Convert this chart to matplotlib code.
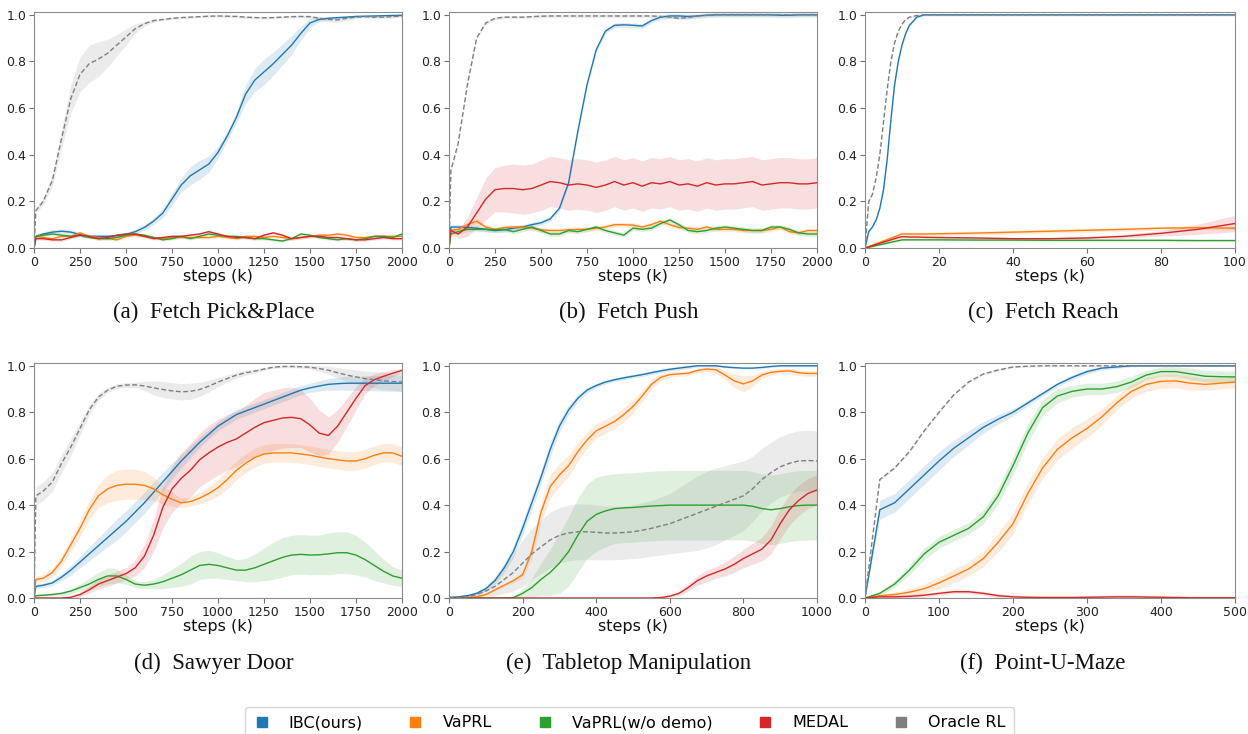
import matplotlib.pyplot as plt
import numpy as np
from matplotlib.lines import Line2D

# ── colours / labels ──────────────────────────────────────────────────────────
C_IBC, C_VAPRL, C_NODEMO, C_MEDAL, C_ORACLE = "#1f77b4", "#ff7f0e", "#2ca02c", "#d62728", "#7f7f7f"
method_names = ["IBC(ours)", "VaPRL", "VaPRL(w/o demo)", "MEDAL", "Oracle RL"]

# ── (a) Fetch Pick&Place ──────────────────────────────────────────────────────
a_steps = [0, 10] + list(range(50, 2001, 50))
a_ibc = [0.0, 0.05, 0.06, 0.068, 0.072, 0.068, 0.058, 0.05, 0.05, 0.05, 0.053, 0.058,
         0.07, 0.088, 0.115, 0.15, 0.21, 0.27, 0.31, 0.335, 0.36, 0.41,
         0.48, 0.56, 0.66, 0.72, 0.755, 0.79, 0.83, 0.87, 0.92, 0.965,
         0.98, 0.985, 0.988, 0.99, 0.993, 0.994, 0.995, 0.996, 0.997, 0.998]
a_ibc_sd = [0.0, 0.01, 0.01, 0.01, 0.01, 0.01, 0.01, 0.008, 0.008, 0.008, 0.008, 0.01,
            0.01, 0.012, 0.015, 0.02, 0.025, 0.03, 0.04, 0.04, 0.035, 0.025,
            0.02, 0.025, 0.04, 0.05, 0.055, 0.05, 0.045, 0.04, 0.03, 0.02,
            0.01, 0.006, 0.005, 0.005, 0.005, 0.005, 0.005, 0.005, 0.005, 0.005]
a_vaprl = [0.0, 0.05, 0.045, 0.04, 0.05, 0.05, 0.065, 0.05, 0.045, 0.04, 0.035, 0.05,
           0.055, 0.05, 0.045, 0.04, 0.045, 0.045, 0.045, 0.045, 0.045, 0.05,
           0.045, 0.04, 0.05, 0.05, 0.045, 0.05, 0.045, 0.04, 0.045, 0.05,
           0.055, 0.055, 0.06, 0.055, 0.045, 0.045, 0.05, 0.05, 0.05, 0.05]
a_nodemo = [0.0, 0.05, 0.055, 0.06, 0.055, 0.05, 0.055, 0.045, 0.04, 0.04, 0.045, 0.055,
            0.06, 0.055, 0.045, 0.035, 0.04, 0.05, 0.04, 0.05, 0.06, 0.055,
            0.05, 0.05, 0.045, 0.04, 0.04, 0.035, 0.03, 0.04, 0.06, 0.055,
            0.045, 0.04, 0.035, 0.04, 0.035, 0.04, 0.05, 0.05, 0.045, 0.06]
a_medal = [0.0, 0.04, 0.04, 0.035, 0.035, 0.045, 0.055, 0.05, 0.04, 0.045, 0.055, 0.06,
           0.06, 0.05, 0.04, 0.045, 0.05, 0.05, 0.055, 0.06, 0.07, 0.06,
           0.05, 0.045, 0.045, 0.04, 0.055, 0.065, 0.055, 0.04, 0.045, 0.05,
           0.05, 0.045, 0.045, 0.04, 0.035, 0.035, 0.04, 0.045, 0.04, 0.04]
a_oracle = [0.0, 0.16, 0.2, 0.29, 0.47, 0.64, 0.745, 0.79, 0.81, 0.835, 0.87, 0.905,
            0.94, 0.962, 0.975, 0.98, 0.985, 0.988, 0.99, 0.992, 0.994, 0.995,
            0.994, 0.993, 0.99, 0.988, 0.987, 0.988, 0.99, 0.992, 0.993, 0.992,
            0.985, 0.98, 0.978, 0.985, 0.99, 0.992, 0.99, 0.99, 0.992, 0.995]
a_oracle_sd = [0.0, 0.01, 0.015, 0.025, 0.04, 0.06, 0.075, 0.08, 0.075, 0.06, 0.045, 0.035,
               0.02, 0.01, 0.006, 0.005, 0.005, 0.005, 0.005, 0.005, 0.005, 0.005,
               0.005, 0.005, 0.005, 0.005, 0.005, 0.005, 0.005, 0.005, 0.005, 0.006,
               0.008, 0.01, 0.01, 0.008, 0.005, 0.005, 0.005, 0.005, 0.005, 0.005]

# ── (b) Fetch Push ────────────────────────────────────────────────────────────
b_steps = [0, 10] + list(range(50, 2001, 50))
b_ibc = [0.0, 0.09, 0.09, 0.088, 0.085, 0.08, 0.075, 0.078, 0.085, 0.09, 0.1, 0.108,
         0.125, 0.17, 0.28, 0.5, 0.7, 0.85, 0.93, 0.955, 0.957, 0.955,
         0.952, 0.975, 0.99, 0.995, 0.995, 0.993, 0.995, 0.998, 1.0, 1.0,
         1.0, 1.0, 1.0, 1.0, 1.0, 0.998, 0.998, 1.0, 1.0, 1.0]
b_ibc_sd = 0.01
b_vaprl = [0.0, 0.075, 0.08, 0.1, 0.115, 0.09, 0.08, 0.088, 0.09, 0.09, 0.085, 0.078,
           0.075, 0.075, 0.078, 0.08, 0.08, 0.085, 0.09, 0.1, 0.1, 0.098,
           0.09, 0.1, 0.115, 0.1, 0.088, 0.085, 0.08, 0.09, 0.08, 0.08,
           0.08, 0.075, 0.075, 0.075, 0.08, 0.09, 0.07, 0.065, 0.075, 0.075]
b_nodemo = [0.0, 0.06, 0.07, 0.08, 0.08, 0.08, 0.078, 0.08, 0.07, 0.08, 0.09, 0.075,
            0.06, 0.06, 0.075, 0.07, 0.08, 0.09, 0.075, 0.065, 0.055, 0.085,
            0.08, 0.085, 0.105, 0.12, 0.1, 0.075, 0.07, 0.075, 0.085, 0.09,
            0.085, 0.08, 0.075, 0.075, 0.09, 0.09, 0.08, 0.065, 0.06, 0.06]
b_medal = [0.0, 0.075, 0.06, 0.09, 0.15, 0.21, 0.25, 0.255, 0.255, 0.25, 0.255, 0.27,
           0.285, 0.28, 0.27, 0.275, 0.27, 0.26, 0.27, 0.285, 0.27, 0.28,
           0.265, 0.28, 0.275, 0.285, 0.27, 0.275, 0.265, 0.28, 0.27, 0.275,
           0.275, 0.28, 0.285, 0.27, 0.275, 0.28, 0.28, 0.275, 0.275, 0.28]
b_medal_sd = [0.0, 0.01, 0.02, 0.04, 0.065, 0.09, 0.095, 0.1, 0.105, 0.105, 0.105, 0.108,
              0.108, 0.108, 0.108, 0.108, 0.108, 0.108, 0.108, 0.108, 0.108, 0.108,
              0.108, 0.108, 0.108, 0.108, 0.108, 0.108, 0.108, 0.108, 0.108, 0.108,
              0.108, 0.108, 0.108, 0.108, 0.108, 0.108, 0.108, 0.108, 0.108, 0.108]
b_oracle = [0.0, 0.33, 0.45, 0.7, 0.9, 0.965, 0.985, 0.99, 0.99, 0.99, 0.992, 0.994,
            0.995, 0.995, 0.995, 0.995, 0.995, 0.995, 0.995, 0.995, 0.995, 0.995,
            0.995, 0.995, 0.993, 0.99, 0.985, 0.988, 0.995, 0.998, 1.0, 1.0,
            1.0, 1.0, 1.0, 1.0, 1.0, 1.0, 1.0, 1.0, 1.0, 1.0]

# ── (c) Fetch Reach ───────────────────────────────────────────────────────────
c_steps = [0, 1, 2, 3, 4, 5, 6, 7, 8, 9, 10, 11, 12, 14, 16, 20, 30, 40, 50, 60, 70, 80, 90, 100]
c_ibc = [0.0, 0.07, 0.09, 0.12, 0.17, 0.25, 0.38, 0.55, 0.7, 0.8, 0.87, 0.92, 0.955, 0.99,
         1.0, 1.0, 1.0, 1.0, 1.0, 1.0, 1.0, 1.0, 1.0, 1.0]
c_vaprl = [0.0, 0.006, 0.012, 0.018, 0.024, 0.03, 0.036, 0.042, 0.048, 0.054, 0.06, 0.06,
           0.06, 0.06, 0.06, 0.061, 0.064, 0.068, 0.072, 0.076, 0.08, 0.085, 0.087, 0.085]
c_nodemo = [0.0, 0.0035, 0.007, 0.0105, 0.014, 0.0175, 0.021, 0.0245, 0.028, 0.0315, 0.035,
            0.035, 0.035, 0.035, 0.035, 0.035, 0.034, 0.034, 0.033, 0.033, 0.033, 0.033, 0.032, 0.032]
c_medal = [0.0, 0.005, 0.01, 0.015, 0.02, 0.025, 0.03, 0.035, 0.04, 0.045, 0.048, 0.048,
           0.047, 0.047, 0.046, 0.045, 0.043, 0.04, 0.04, 0.043, 0.05, 0.063, 0.08, 0.105]
c_medal_sd = [0.0, 0.003, 0.003, 0.004, 0.004, 0.005, 0.005, 0.005, 0.005, 0.005, 0.005, 0.005,
              0.005, 0.005, 0.005, 0.005, 0.005, 0.005, 0.005, 0.006, 0.008, 0.012, 0.022, 0.035]
c_oracle = [0.0, 0.2, 0.23, 0.3, 0.4, 0.54, 0.68, 0.8, 0.88, 0.93, 0.96, 0.98, 0.99, 0.997,
            1.0, 1.0, 1.0, 1.0, 1.0, 1.0, 1.0, 1.0, 1.0, 1.0]

# ── (d) Sawyer Door ───────────────────────────────────────────────────────────
d_steps = [0, 10] + list(range(50, 2001, 50))
d_ibc = [0.0, 0.05, 0.055, 0.065, 0.09, 0.12, 0.155, 0.19, 0.225, 0.26, 0.295, 0.33,
         0.37, 0.41, 0.455, 0.5, 0.545, 0.59, 0.63, 0.67, 0.705, 0.74,
         0.765, 0.79, 0.805, 0.82, 0.835, 0.85, 0.865, 0.88, 0.895, 0.905,
         0.913, 0.92, 0.923, 0.925, 0.925, 0.925, 0.925, 0.925, 0.925, 0.925]
d_ibc_sd = [0.0, 0.01, 0.01, 0.012, 0.015, 0.02, 0.025, 0.03, 0.035, 0.04, 0.045, 0.045,
            0.045, 0.045, 0.045, 0.04, 0.035, 0.03, 0.025, 0.022, 0.02, 0.02,
            0.02, 0.02, 0.02, 0.02, 0.02, 0.02, 0.02, 0.02, 0.02, 0.02,
            0.022, 0.025, 0.028, 0.03, 0.03, 0.032, 0.033, 0.034, 0.035, 0.035]
d_vaprl = [0.0, 0.08, 0.085, 0.11, 0.16, 0.23, 0.3, 0.38, 0.44, 0.47, 0.485, 0.49,
           0.49, 0.485, 0.47, 0.445, 0.425, 0.41, 0.415, 0.43, 0.45, 0.475,
           0.51, 0.55, 0.58, 0.605, 0.62, 0.625, 0.625, 0.625, 0.62, 0.615,
           0.607, 0.6, 0.595, 0.59, 0.59, 0.6, 0.615, 0.625, 0.625, 0.61]
d_vaprl_sd = [0.0, 0.015, 0.015, 0.02, 0.025, 0.03, 0.035, 0.04, 0.05, 0.06, 0.065, 0.065,
              0.065, 0.06, 0.05, 0.04, 0.03, 0.02, 0.02, 0.025, 0.03, 0.035,
              0.04, 0.04, 0.04, 0.04, 0.04, 0.04, 0.04, 0.04, 0.04, 0.04,
              0.04, 0.04, 0.04, 0.04, 0.04, 0.04, 0.04, 0.04, 0.04, 0.04]
d_nodemo = [0.0, 0.01, 0.012, 0.015, 0.02, 0.03, 0.045, 0.06, 0.08, 0.095, 0.095, 0.08,
            0.06, 0.055, 0.06, 0.07, 0.085, 0.1, 0.12, 0.14, 0.145, 0.14,
            0.13, 0.12, 0.12, 0.13, 0.145, 0.16, 0.175, 0.185, 0.188, 0.185,
            0.186, 0.19, 0.195, 0.195, 0.185, 0.165, 0.14, 0.115, 0.095, 0.085]
d_nodemo_sd = [0.0, 0.005, 0.005, 0.005, 0.008, 0.01, 0.015, 0.025, 0.03, 0.035, 0.03, 0.02,
               0.015, 0.015, 0.02, 0.03, 0.04, 0.05, 0.06, 0.06, 0.06, 0.055,
               0.05, 0.045, 0.05, 0.06, 0.07, 0.08, 0.085, 0.085, 0.085, 0.085,
               0.085, 0.09, 0.09, 0.09, 0.085, 0.075, 0.065, 0.05, 0.04, 0.035]
d_medal = [0.0, 0.0, 0.0, 0.0, 0.0, 0.003, 0.015, 0.035, 0.06, 0.075, 0.09, 0.105,
           0.13, 0.18, 0.27, 0.39, 0.47, 0.515, 0.55, 0.595, 0.625, 0.65,
           0.67, 0.685, 0.71, 0.735, 0.755, 0.765, 0.775, 0.778, 0.772, 0.745,
           0.71, 0.7, 0.74, 0.8, 0.86, 0.915, 0.94, 0.955, 0.968, 0.98]
d_medal_sd = [0.0, 0.003, 0.003, 0.003, 0.004, 0.005, 0.01, 0.015, 0.02, 0.025, 0.025, 0.025,
              0.035, 0.05, 0.07, 0.09, 0.1, 0.11, 0.115, 0.115, 0.12, 0.12,
              0.12, 0.12, 0.12, 0.125, 0.13, 0.13, 0.13, 0.13, 0.125, 0.115,
              0.1, 0.08, 0.07, 0.06, 0.05, 0.035, 0.025, 0.02, 0.015, 0.01]
d_oracle = [0.0, 0.44, 0.46, 0.5, 0.58, 0.65, 0.73, 0.81, 0.865, 0.895, 0.912, 0.917,
            0.918, 0.913, 0.905, 0.898, 0.892, 0.888, 0.89, 0.898, 0.912, 0.93,
            0.945, 0.96, 0.97, 0.977, 0.986, 0.994, 0.997, 0.997, 0.996, 0.994,
            0.988, 0.981, 0.97, 0.96, 0.952, 0.945, 0.94, 0.935, 0.932, 0.93]
d_oracle_sd = [0.0, 0.04, 0.04, 0.04, 0.04, 0.035, 0.03, 0.02, 0.015, 0.01, 0.01, 0.01,
               0.012, 0.02, 0.03, 0.035, 0.035, 0.035, 0.035, 0.03, 0.025, 0.02,
               0.015, 0.012, 0.01, 0.008, 0.006, 0.005, 0.005, 0.005, 0.005, 0.008,
               0.012, 0.018, 0.022, 0.026, 0.03, 0.032, 0.035, 0.037, 0.038, 0.04]

# ── (e) Tabletop Manipulation ─────────────────────────────────────────────────
e_steps = list(range(0, 1001, 25))
e_ibc = [0.003, 0.005, 0.01, 0.02, 0.04, 0.075, 0.13, 0.2, 0.3, 0.41, 0.52, 0.64, 0.74, 0.81,
         0.86, 0.895, 0.915, 0.93, 0.94, 0.948, 0.955, 0.962, 0.97, 0.978, 0.985, 0.99, 0.995,
         1.0, 1.0, 1.0, 0.995, 0.992, 0.99, 0.99, 0.993, 0.997, 1.0, 1.0, 1.0, 1.0, 1.0]
e_ibc_sd = [0.002, 0.003, 0.005, 0.008, 0.01, 0.015, 0.02, 0.025, 0.03, 0.03, 0.03, 0.03, 0.025, 0.02,
            0.015, 0.012, 0.01, 0.008, 0.008, 0.008, 0.008, 0.008, 0.008, 0.008, 0.008, 0.008, 0.008,
            0.005, 0.004, 0.004, 0.004, 0.004, 0.004, 0.004, 0.004, 0.004, 0.004, 0.004, 0.004, 0.004, 0.004]
e_vaprl = [0.0, 0.0, 0.002, 0.005, 0.015, 0.035, 0.055, 0.075, 0.1, 0.2, 0.37, 0.48, 0.53, 0.57,
           0.63, 0.68, 0.72, 0.74, 0.76, 0.79, 0.825, 0.87, 0.92, 0.95, 0.962, 0.965, 0.968,
           0.98, 0.986, 0.983, 0.96, 0.935, 0.922, 0.935, 0.96, 0.972, 0.976, 0.978, 0.97, 0.967, 0.967]
e_vaprl_sd = [0.0, 0.0, 0.002, 0.003, 0.004, 0.005, 0.005, 0.01, 0.015, 0.03, 0.045, 0.05, 0.05, 0.045,
              0.04, 0.035, 0.03, 0.03, 0.03, 0.03, 0.03, 0.025, 0.02, 0.015, 0.012, 0.01, 0.01,
              0.01, 0.01, 0.015, 0.02, 0.03, 0.035, 0.025, 0.015, 0.012, 0.012, 0.012, 0.012, 0.012, 0.012]
e_nodemo = [0.0, 0.0, 0.0, 0.0, 0.0, 0.0, 0.0, 0.002, 0.02, 0.045, 0.08, 0.11, 0.15, 0.2,
            0.27, 0.33, 0.36, 0.375, 0.385, 0.388, 0.39, 0.393, 0.396, 0.398, 0.4, 0.4, 0.4,
            0.4, 0.4, 0.4, 0.4, 0.4, 0.4, 0.395, 0.385, 0.38, 0.385, 0.393, 0.398, 0.4, 0.4]
e_nodemo_sd = [0.0, 0.0, 0.0, 0.0, 0.0, 0.0, 0.002, 0.005, 0.02, 0.04, 0.07, 0.1, 0.13, 0.15,
               0.16, 0.16, 0.16, 0.155, 0.15, 0.15, 0.15, 0.15, 0.15, 0.15, 0.15, 0.15, 0.15,
               0.15, 0.15, 0.15, 0.15, 0.15, 0.15, 0.15, 0.15, 0.15, 0.15, 0.15, 0.15, 0.15, 0.15]
e_medal = [0.0, 0.0, 0.0, 0.0, 0.0, 0.0, 0.0, 0.0, 0.0, 0.0, 0.0, 0.0, 0.0, 0.0,
           0.0, 0.0, 0.0, 0.0, 0.0, 0.0, 0.0, 0.0, 0.0, 0.002, 0.008, 0.02, 0.045,
           0.075, 0.095, 0.11, 0.125, 0.145, 0.17, 0.19, 0.21, 0.25, 0.32, 0.38, 0.42, 0.45, 0.465]
e_medal_sd = [0.002, 0.002, 0.002, 0.002, 0.002, 0.002, 0.002, 0.002, 0.002, 0.002, 0.002, 0.002, 0.002, 0.002,
              0.002, 0.002, 0.002, 0.002, 0.002, 0.002, 0.002, 0.002, 0.002, 0.003, 0.005, 0.01, 0.015,
              0.02, 0.025, 0.025, 0.03, 0.035, 0.04, 0.045, 0.05, 0.06, 0.065, 0.065, 0.065, 0.065, 0.065]
e_oracle = [0.0, 0.002, 0.005, 0.015, 0.03, 0.05, 0.08, 0.11, 0.15, 0.19, 0.22, 0.25, 0.27, 0.28,
            0.285, 0.285, 0.283, 0.28, 0.28, 0.282, 0.285, 0.292, 0.3, 0.31, 0.32, 0.335, 0.35,
            0.365, 0.38, 0.395, 0.41, 0.425, 0.44, 0.47, 0.51, 0.54, 0.565, 0.58, 0.59, 0.592, 0.59]
e_oracle_sd = [0.0, 0.002, 0.005, 0.01, 0.02, 0.04, 0.06, 0.08, 0.1, 0.11, 0.115, 0.12, 0.12, 0.12,
               0.12, 0.12, 0.118, 0.116, 0.115, 0.115, 0.115, 0.118, 0.12, 0.125, 0.13, 0.14, 0.15,
               0.16, 0.165, 0.165, 0.16, 0.155, 0.15, 0.14, 0.135, 0.13, 0.13, 0.13, 0.13, 0.13, 0.13]

# ── (f) Point-U-Maze ──────────────────────────────────────────────────────────
f_steps = list(range(0, 501, 20))
f_ibc = [0.0, 0.38, 0.41, 0.47, 0.53, 0.59, 0.645, 0.69, 0.735, 0.77, 0.8, 0.84, 0.88,
         0.92, 0.95, 0.975, 0.99, 0.995, 1.0, 1.0, 1.0, 1.0, 1.0, 1.0, 1.0, 1.0]
f_ibc_sd = [0.0, 0.04, 0.04, 0.04, 0.04, 0.04, 0.035, 0.03, 0.025, 0.02, 0.015, 0.012, 0.01,
            0.01, 0.01, 0.01, 0.008, 0.006, 0.004, 0.003, 0.003, 0.003, 0.003, 0.003, 0.003, 0.003]
f_vaprl = [0.0, 0.01, 0.015, 0.025, 0.04, 0.065, 0.095, 0.125, 0.17, 0.24, 0.32, 0.45, 0.56,
           0.64, 0.69, 0.73, 0.78, 0.84, 0.89, 0.92, 0.933, 0.935, 0.925, 0.92, 0.925, 0.93]
f_vaprl_sd = [0.0, 0.005, 0.01, 0.015, 0.02, 0.025, 0.03, 0.03, 0.035, 0.04, 0.045, 0.045, 0.045,
              0.045, 0.045, 0.04, 0.035, 0.03, 0.03, 0.03, 0.03, 0.03, 0.03, 0.025, 0.025, 0.025]
f_nodemo = [0.0, 0.02, 0.06, 0.12, 0.19, 0.24, 0.27, 0.3, 0.35, 0.44, 0.57, 0.71, 0.82,
            0.87, 0.89, 0.9, 0.9, 0.91, 0.93, 0.96, 0.975, 0.975, 0.965, 0.955, 0.953, 0.952]
f_nodemo_sd = [0.0, 0.008, 0.015, 0.02, 0.025, 0.025, 0.025, 0.025, 0.03, 0.035, 0.04, 0.04, 0.035,
               0.03, 0.025, 0.025, 0.025, 0.025, 0.025, 0.02, 0.02, 0.02, 0.025, 0.025, 0.025, 0.025]
f_medal = [0.0, 0.005, 0.005, 0.007, 0.012, 0.02, 0.027, 0.027, 0.02, 0.01, 0.005, 0.003, 0.002,
           0.002, 0.002, 0.003, 0.004, 0.005, 0.005, 0.004, 0.003, 0.002, 0.001, 0.001, 0.001, 0.001]
f_oracle = [0.0, 0.51, 0.56, 0.63, 0.72, 0.8, 0.875, 0.93, 0.965, 0.982, 0.995, 0.998, 1.0,
            1.0, 1.0, 1.0, 1.0, 1.0, 1.0, 1.0, 1.0, 1.0, 1.0, 1.0, 1.0, 1.0]


def draw_curve(ax, steps, mean, sd, color, dashed=False):
    steps = np.asarray(steps, float)
    mean = np.asarray(mean, float)
    sd = np.broadcast_to(np.asarray(sd, float), mean.shape)
    ax.fill_between(steps, mean - sd, mean + sd, color=color, alpha=0.15, linewidth=0)
    ax.plot(steps, mean, color=color, lw=1.0, ls=(0, (3.5, 1.8)) if dashed else "-")


def style_axis(ax, xmax, xticks):
    ax.set_xlim(0, xmax)
    ax.set_ylim(0, 1.012)
    ax.set_xticks(xticks)
    ax.set_yticks([0.0, 0.2, 0.4, 0.6, 0.8, 1.0])
    ax.set_yticklabels(["0.0", "0.2", "0.4", "0.6", "0.8", "1.0"])
    ax.tick_params(labelsize=9, pad=2, length=3.5, color="0.45", labelcolor="#222222")
    for spine in ax.spines.values():
        spine.set_edgecolor("0.55")
    ax.set_xlabel("steps (k)", fontsize=11.5, labelpad=0.5, color="#111111")


fig = plt.figure(figsize=(12.48, 7.34), dpi=100)

W, H = 1248.0, 734.0
col_left = [34, 449, 865]
col_width = [368, 368, 370]
row_top = [12, 363]
row_bottom = [248, 598]

panels = [
    ("(a)  Fetch Pick&Place", a_steps, 2000, range(0, 2001, 250),
     [(a_ibc, a_ibc_sd), (a_vaprl, 0.006), (a_nodemo, 0.006), (a_medal, 0.006), (a_oracle, a_oracle_sd)]),
    ("(b)  Fetch Push", b_steps, 2000, range(0, 2001, 250),
     [(b_ibc, b_ibc_sd), (b_vaprl, 0.01), (b_nodemo, 0.01), (b_medal, b_medal_sd), (b_oracle, 0.006)]),
    ("(c)  Fetch Reach", c_steps, 100, range(0, 101, 20),
     [(c_ibc, 0.004), (c_vaprl, 0.008), (c_nodemo, 0.004), (c_medal, c_medal_sd), (c_oracle, 0.004)]),
    ("(d)  Sawyer Door", d_steps, 2000, range(0, 2001, 250),
     [(d_ibc, d_ibc_sd), (d_vaprl, d_vaprl_sd), (d_nodemo, d_nodemo_sd), (d_medal, d_medal_sd), (d_oracle, d_oracle_sd)]),
    ("(e)  Tabletop Manipulation", e_steps, 1000, range(0, 1001, 200),
     [(e_ibc, e_ibc_sd), (e_vaprl, e_vaprl_sd), (e_nodemo, e_nodemo_sd), (e_medal, e_medal_sd), (e_oracle, e_oracle_sd)]),
    ("(f)  Point-U-Maze", f_steps, 500, range(0, 501, 100),
     [(f_ibc, f_ibc_sd), (f_vaprl, f_vaprl_sd), (f_nodemo, f_nodemo_sd), (f_medal, 0.008), (f_oracle, 0.004)]),
]
colors = [C_IBC, C_VAPRL, C_NODEMO, C_MEDAL, C_ORACLE]
caption_x = [214, 629, 1043]
caption_y = [312, 663]

for i, (caption, steps, xmax, xticks, series) in enumerate(panels):
    r, c = divmod(i, 3)
    ax = fig.add_axes([col_left[c] / W, 1 - row_bottom[r] / H,
                       col_width[c] / W, (row_bottom[r] - row_top[r]) / H])
    for k, (mean, sd) in enumerate(series):
        draw_curve(ax, steps, mean, sd, colors[k], dashed=(k == 4))
    style_axis(ax, xmax, list(xticks))
    fig.text(caption_x[c] / W, 1 - caption_y[r] / H, caption, ha="center", va="center",
             fontsize=16.5, family="Liberation Serif", color="#111111")

# ── Légende commune ───────────────────────────────────────────────────────────
handles = [Line2D([], [], ls="none", marker="s", markersize=7, color=col) for col in colors]
fig.legend(handles, method_names, loc="upper center", bbox_to_anchor=(629.5 / W, 1 - 706.5 / H),
           ncol=5, fontsize=11.5, frameon=True, handlelength=1.0, handletextpad=1.2,
           columnspacing=2.8, borderpad=0.55, borderaxespad=0.0, edgecolor="0.8")

fig.savefig("out.png", dpi=100)
